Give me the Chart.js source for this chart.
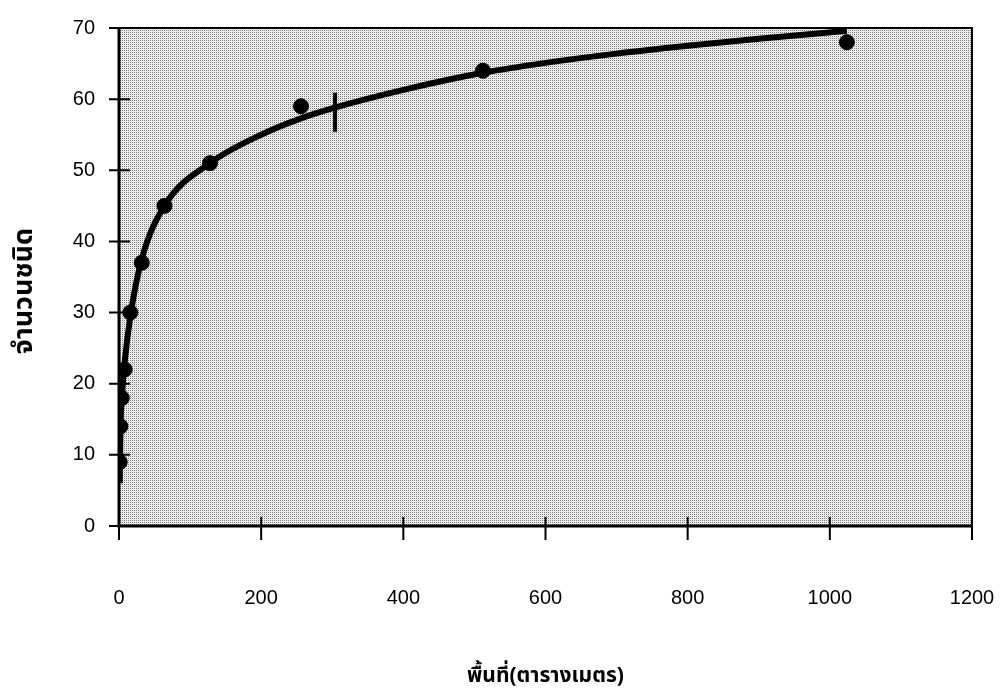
<!DOCTYPE html>
<html>
<head>
<meta charset="utf-8">
<script src="https://cdn.jsdelivr.net/npm/chart.js@4.4.1/dist/chart.umd.min.js"></script>
<style>
  html, body { margin: 0; padding: 0; background: #fff; }
  #wrap { width: 1002px; height: 696px; }
</style>
</head>
<body>
<div id="wrap"><canvas id="speciesChart"></canvas></div>
<script>
"use strict";

// Observed species counts per sampled area (m2)
const areas = [1, 2, 4, 8, 16, 32, 64, 128, 256, 512, 1024];
const speciesCounts = [9, 14, 18, 22, 30, 37, 45, 51, 59, 64, 68];

// Fitted species-area curve, read at these areas
const curveAreas = [1, 2, 4, 8, 16, 32, 64, 128, 200, 256, 300, 400, 512, 600, 700, 800, 900, 1024];
const curveCounts = [6, 13.5, 18, 23, 29.5, 37.5, 45, 51, 55, 57.3, 58.7, 61.3, 63.7, 65.1, 66.4, 67.5, 68.5, 69.6];

// Small hand-drawn stroke crossing the curve
const markAreas = [304, 304];
const markCounts = [55.4, 60.9];

const xTicks = [0, 200, 400, 600, 800, 1000, 1200];
const yTicks = [0, 10, 20, 30, 40, 50, 60, 70];

const THAI_FONT = "'Noto Sans Thai', 'Loma', 'Garuda', 'Tlwg Typo', 'DejaVu Sans', 'Noto Sans', sans-serif";
const NUM_FONT = "Arial, 'Liberation Sans', sans-serif";

function toXY(xs, ys) {
  return xs.map((x, i) => ({ x: x, y: ys[i] }));
}

// Dotted grey fill for the plot area
function makeDotPattern(ctx) {
  const tile = document.createElement("canvas");
  tile.width = 2;
  tile.height = 2;
  const t = tile.getContext("2d");
  t.fillStyle = "#f6f6f6";
  t.fillRect(0, 0, 2, 2);
  t.fillStyle = "#7a7a7a";
  t.fillRect(0, 0, 1, 1);
  t.fillStyle = "#e0e0e0";
  t.fillRect(1, 1, 1, 1);
  return ctx.createPattern(tile, "repeat");
}

// Background, frame and crossing tick marks
const framePlugin = {
  id: "frame",
  beforeDatasetsDraw(chart) {
    const { ctx, chartArea: a } = chart;
    ctx.save();
    ctx.fillStyle = makeDotPattern(ctx);
    ctx.fillRect(a.left, a.top, a.right - a.left, a.bottom - a.top);
    ctx.restore();
  },
  afterDatasetsDraw(chart) {
    const { ctx, chartArea: a, scales } = chart;
    ctx.save();
    ctx.strokeStyle = "#000";
    // top and right edges
    ctx.lineWidth = 2;
    ctx.beginPath();
    ctx.moveTo(a.left, a.top);
    ctx.lineTo(a.right, a.top);
    ctx.lineTo(a.right, a.bottom);
    ctx.stroke();
    // axes
    ctx.lineWidth = 3;
    ctx.beginPath();
    ctx.moveTo(a.left, a.top);
    ctx.lineTo(a.left, a.bottom);
    ctx.lineTo(a.right, a.bottom);
    ctx.stroke();
    // tick marks across the axes
    ctx.lineWidth = 2;
    ctx.beginPath();
    yTicks.forEach(v => {
      const y = scales.y.getPixelForValue(v);
      ctx.moveTo(a.left - 10, y);
      ctx.lineTo(a.left + 11, y);
    });
    xTicks.forEach(v => {
      const x = scales.x.getPixelForValue(v);
      ctx.moveTo(x, a.bottom - 9);
      ctx.lineTo(x, a.bottom + 14);
    });
    ctx.stroke();
    ctx.restore();
  }
};

const ctx = document.getElementById("speciesChart").getContext("2d");

new Chart(ctx, {
  type: "scatter",
  data: {
    datasets: [
      {
        label: "curve",
        data: toXY(curveAreas, curveCounts),
        showLine: true,
        borderColor: "#000",
        borderWidth: 6,
        pointRadius: 0,
        cubicInterpolationMode: "monotone",
        order: 2
      },
      {
        label: "mark",
        data: toXY(markAreas, markCounts),
        showLine: true,
        borderColor: "#000",
        borderWidth: 4,
        pointRadius: 0,
        order: 1
      },
      {
        label: "observed",
        data: toXY(areas, speciesCounts),
        backgroundColor: "#000",
        borderColor: "#000",
        pointRadius: 7.5,
        pointStyle: "circle",
        order: 0
      }
    ]
  },
  options: {
    responsive: true,
    maintainAspectRatio: false,
    animation: false,
    layout: { padding: { left: 0, top: 28, right: 30, bottom: 0 } },
    plugins: {
      legend: { display: false },
      tooltip: { enabled: false }
    },
    scales: {
      x: {
        type: "linear",
        min: 0,
        max: 1200,
        afterBuildTicks: s => { s.ticks = xTicks.map(v => ({ value: v })); },
        afterFit: s => {
          s.height = 170;
          s.paddingLeft = 0;
          s.paddingRight = 0;
        },
        grid: { display: false, drawTicks: false },
        border: { display: false },
        ticks: {
          padding: 60,
          color: "#000",
          maxRotation: 0,
          callback: v => String(v),
          font: { family: NUM_FONT, size: 20 }
        },
        title: {
          display: true,
          text: "พื้นที่(ตารางเมตร)",
          color: "#000",
          padding: { top: 0, bottom: 6 },
          font: { family: THAI_FONT, size: 21, weight: "bold" }
        }
      },
      y: {
        type: "linear",
        min: 0,
        max: 70,
        afterBuildTicks: s => { s.ticks = yTicks.map(v => ({ value: v })); },
        afterFit: s => {
          s.width = 119;
          s.paddingTop = 0;
          s.paddingBottom = 0;
        },
        grid: { display: false, drawTicks: false },
        border: { display: false },
        ticks: {
          padding: 24,
          color: "#000",
          callback: v => String(v),
          font: { family: NUM_FONT, size: 20 }
        },
        title: {
          display: true,
          text: "จำนวนชนิด    ",
          color: "#000",
          padding: { top: 10, bottom: 0 },
          font: { family: THAI_FONT, size: 27, weight: "bold" }
        }
      }
    }
  },
  plugins: [framePlugin]
});
</script>
</body>
</html>
